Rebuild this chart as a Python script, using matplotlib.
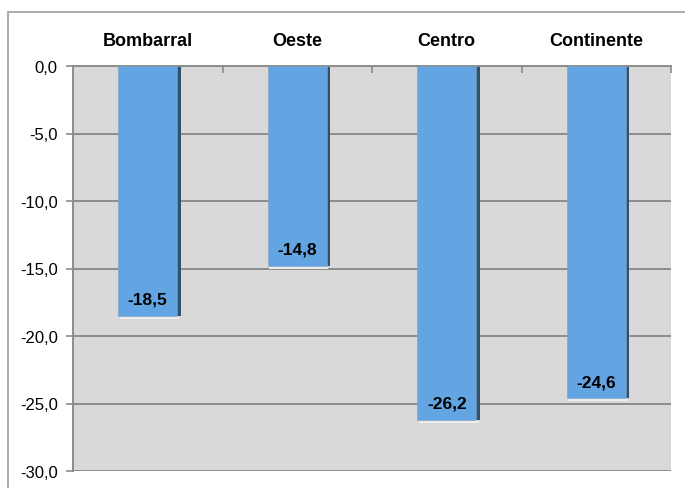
import matplotlib
matplotlib.use("Agg")
import matplotlib.pyplot as plt
from matplotlib.patches import Rectangle

categories = ["Bombarral", "Oeste", "Centro", "Continente"]
values = [-18.5, -14.8, -26.2, -24.6]
yticks = [0, -5, -10, -15, -20, -25, -30]
ytick_labels = ["0,0", "-5,0", "-10,0", "-15,0", "-20,0", "-25,0", "-30,0"]
value_labels = ["-18,5", "-14,8", "-26,2", "-24,6"]

plt.rcParams['font.family'] = ['Liberation Sans', 'DejaVu Sans']

fig = plt.figure(figsize=(6.85, 4.89), dpi=100)
fig.patch.set_facecolor('white')
# outer chart border
fig.patches.append(Rectangle((8/685, -0.1), 1.2, 1 - 13/489 + 0.1, transform=fig.transFigure,
                             fill=False, edgecolor='#A6A6A6', linewidth=1.3, zorder=0))

ax = fig.add_axes([73/685, 1 - 472/489, (671-73)/685, (472-67)/489])
ax.set_facecolor('#D9D9D9')

x = list(range(len(categories)))
bw = 0.395
# shadow
ax.bar([xi + 0.022 for xi in x], values, width=bw, color='#33506B', zorder=2)
ax.bar([xi + 0.01 for xi in x], [v - 0.25 for v in values], width=bw, color='#EDEDED', zorder=1.9)
ax.bar(x, values, width=bw, color='#63A5E2', edgecolor='#7F9FBF', linewidth=0.4, zorder=3)

for xi, v, lab in zip(x, values, value_labels):
    ax.annotate(lab, (xi, v), xytext=(0, 8.5), textcoords='offset points',
                ha='center', va='baseline', fontsize=12.5, fontweight='bold', zorder=5)

ax.set_xlim(-0.5, 3.5)
ax.set_ylim(-30, 0)
ax.set_yticks(yticks)
ax.set_yticklabels(ytick_labels, fontsize=12)
ax.yaxis.grid(True, color='#8C8C8C', linewidth=1.4, zorder=1)
ax.set_axisbelow(True)
ax.tick_params(axis='y', length=5, color='#8C8C8C', width=1.2, pad=6)

ax.set_xticks([0.5, 1.5, 2.5, 3.5])
ax.set_xticklabels([])
ax.xaxis.tick_top()
ax.tick_params(axis='x', direction='in', length=5, color='#8C8C8C', width=1.2)

for xi, c in zip(x, categories):
    ax.text(xi, 1.0 + 25/405, c, transform=ax.get_xaxis_transform(), ha='center', va='center',
            fontsize=13, fontweight='bold')

for s in ['right', 'bottom']:
    ax.spines[s].set_visible(False)
ax.spines['top'].set_color('#8C8C8C')
ax.spines['top'].set_linewidth(1.4)
ax.spines['left'].set_color('#8C8C8C')
ax.spines['left'].set_linewidth(1.4)

fig.savefig('out.png', dpi=100)
